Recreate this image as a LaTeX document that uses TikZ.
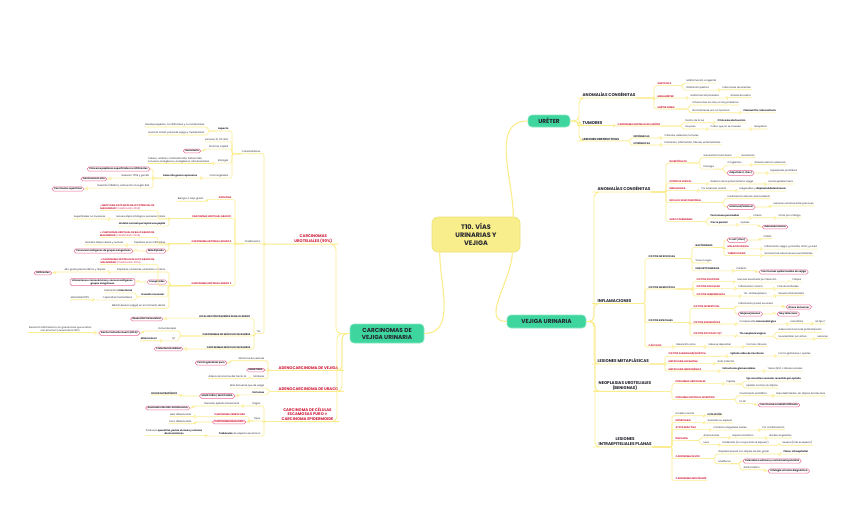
\documentclass[tikz,border=0pt]{standalone}
\usepackage{fontspec}
\setmainfont{Poppins}
\definecolor{lncol}{RGB}{251,236,140}
\definecolor{redt}{RGB}{210,30,60}
\definecolor{pinkb}{RGB}{235,105,150}
\definecolor{greenb}{RGB}{62,214,158}
\definecolor{greenbd}{RGB}{140,232,195}
\definecolor{yelb}{RGB}{248,238,140}
\definecolor{yelbd}{RGB}{238,226,120}
\definecolor{dark}{RGB}{35,35,45}
\newcommand\ft{\fontsize{2.4}{3}\selectfont}
\newcommand\fh{\fontsize{4.1}{5}\selectfont\bfseries}
\newcommand\nW[4]{\node[#1,anchor=west] (#2) at (#3) {#4};}
\newcommand\nE[4]{\node[#1,anchor=east] (#2) at (#3) {#4};}
\newcommand\Rtt[2]{\draw[ln] (#1.south east) to[toR] (#2);}
\newcommand\Rtp[2]{\draw[ln] (#1.south east) to[toRP] (#2);}
\newcommand\Rpt[2]{\draw[ln] (#1.east) to[toR] (#2);}
\newcommand\Rpp[2]{\draw[ln] (#1.east) to[toRP] (#2);}
\newcommand\Ltt[2]{\draw[ln] (#1.south west) to[toL] (#2);}
\newcommand\Ltp[2]{\draw[ln] (#1.south west) to[toLP] (#2);}
\newcommand\Lpt[2]{\draw[ln] (#1.west) to[toL] (#2);}
\newcommand\Lpp[2]{\draw[ln] (#1.west) to[toLP] (#2);}
\begin{document}
\begin{tikzpicture}[x=1pt,y=-1pt,
 ln/.style={draw=lncol,line width=0.6pt,rounded corners=1.6pt},
 lnh/.style={draw=lncol,line width=0.85pt,rounded corners=5pt},
 lnb/.style={draw=lncol,line width=1.1pt},
 toR/.style={to path={-| ([xshift=-3pt]\tikztotarget.south west) -- (\tikztotarget.south west) -- (\tikztotarget.south east)}},
 toRP/.style={to path={-| ([xshift=-3pt]\tikztotarget.west) -- (\tikztotarget.west)}},
 toL/.style={to path={-| ([xshift=3pt]\tikztotarget.south east) -- (\tikztotarget.south east) -- (\tikztotarget.south west)}},
 toLP/.style={to path={-| ([xshift=3pt]\tikztotarget.east) -- (\tikztotarget.east)}},
 tx/.style={font=\ft,text=dark,inner xsep=0.5pt,inner ysep=0.6pt},
 tb/.style={tx,font=\ft\bfseries},
 rd/.style={tx,font=\ft\bfseries,text=redt},
 pl/.style={font=\ft\bfseries,text=dark,draw=pinkb,line width=0.5pt,fill=white,rounded corners=1.8pt,inner xsep=2pt,inner ysep=0.9pt},
 hd/.style={font=\fh,text=dark,inner xsep=0.5pt,inner ysep=0.8pt},
 hs/.style={font=\fontsize{2.9}{3.5}\selectfont\bfseries,text=dark,inner xsep=0.5pt,inner ysep=0.7pt},
 hr/.style={font=\fontsize{3.9}{4.7}\selectfont\bfseries,text=redt,inner xsep=0.5pt,inner ysep=0.8pt,align=center},
 gbox/.style={fill=greenb,draw=greenbd,line width=0.6pt,rounded corners=4pt,font=\fontsize{5.8}{7}\selectfont\bfseries,text=dark,align=center,inner sep=1pt},
]
\fill[white] (0,0) rectangle (848,504);
\useasboundingbox (0,0) rectangle (848,504);

% ---------- central ----------
\node[fill=yelb,draw=yelbd,line width=0.6pt,rounded corners=6pt,minimum width=88pt,minimum height=35pt,
 font=\fontsize{6.5}{8}\selectfont\bfseries,text=dark,align=center] (T) at (476,234.5) {T10. VÍAS\\URINARIAS Y\\VEJIGA};
\node[gbox,minimum width=42pt,minimum height=12pt] (U) at (549,121) {URÉTER};
\node[gbox,minimum width=79pt,minimum height=13pt] (V) at (546.5,321.5) {VEJIGA URINARIA};
\node[gbox,minimum width=74pt,minimum height=19pt] (C) at (387,333.5) {CARCINOMAS DE\\VEJIGA URINARIA};
\draw[lnb] ([xshift=-7pt]T.north east) to[out=90,in=180] (U.west);
\draw[lnb] ([xshift=-8pt]T.south east) to[out=-90,in=180] (V.west);
\draw[lnb] ([xshift=8pt]T.south west) to[out=-90,in=0] (C.east);

% ---------- URETER ----------
\nW{hd}{uac}{582,95}{ANOMALÍAS CONGÉNITAS}
\nW{hd}{utu}{582,123}{TUMORES}
\nW{hs}{ulo}{582,139}{LESIONES OBSTRUCTIVAS}
\nW{rd}{u1}{657,84}{URETOCELE}
\nW{tx}{u11}{686,81}{Malformación congénita}
\nW{tx}{u12}{686,88}{Dilatación quística}
\nW{tx}{u121}{722,88}{Infecciones recurrentes}
\nW{rd}{u2}{657,96}{MEGAURÉTER}
\nW{tx}{u21}{690,96}{Malformación/acalasia}
\nW{tx}{u211}{730,96}{Atresia de uretra}
\nW{rd}{u3}{657,107}{URÉTER DOBLE}
\nW{tx}{u31}{692,103}{Si funcionan los dos, no hay problema}
\nW{tx}{u32}{692,111}{Normalmente uno no funciona}
\nW{tb}{u321}{743,111}{Pielonefritis, hidronefrosis}
\nW{rd}{u4}{617,124}{CARCINOMA UROTELIAL DEL URÉTER}
\nW{tx}{u41}{685,121}{Dentro de la luz}
\nW{tb}{u411}{717,121}{Clínica de obstrucción}
\nW{tx}{u42}{685,127}{De paso}
\nW{tx}{u421}{710,127}{Cólico que no se mueven}
\nW{tx}{u422}{754,127}{Neoplasia}
\nW{tb}{u5}{633,136}{INTRÍNSECAS}
\nW{tx}{u51}{664,136}{Cálculos, estenosis, tumores}
\nW{tb}{u6}{633,143}{EXTRÍNSECAS}
\nW{tx}{u61}{664,143}{Embarazo, inflamación, fibrosis, endometriosis...}
\draw[lnh] (U.east) to[toR] (uac);
\draw[lnh] (U.east) to[toR] (utu);
\draw[lnh] (U.east) to[toR] (ulo);
\Rtt{uac}{u1}\Rtt{uac}{u2}\Rtt{uac}{u3}
\Rtt{u1}{u11}\Rtt{u1}{u12}\Rtt{u12}{u121}
\Rtt{u2}{u21}\Rtt{u21}{u211}
\Rtt{u3}{u31}\Rtt{u3}{u32}\Rtt{u32}{u321}
\Rtt{utu}{u4}\Rtt{u4}{u41}\Rtt{u41}{u411}\Rtt{u4}{u42}\Rtt{u42}{u421}\Rtt{u421}{u422}
\Rtt{ulo}{u5}\Rtt{u5}{u51}\Rtt{ulo}{u6}\Rtt{u6}{u61}

% ---------- VEJIGA: headings ----------
\nW{hd}{vac}{597,189}{ANOMALÍAS CONGÉNITAS}
\nW{hd}{vin}{597,301}{INFLAMACIONES}
\nW{hd}{vme}{597,361}{LESIONES METAPLÁSICAS}
\nW{hd,align=center}{vne}{598,386}{NEOPLASIAS UROTELIALES\\(BENIGNAS)}
\nW{hd,align=center}{vli}{598,442}{LESIONES\\INTRAEPITELIALES PLANAS}
\draw[lnh] (V.east) to[toR] (vac);
\draw[lnh] (V.east) to[toR] (vin);
\draw[lnh] (V.east) to[toR] (vme);
\draw[lnh] (V.east) to[toR] (vne);
\draw[lnh] (V.east) to[toR] (vli);

% anomalias congenitas
\nW{rd}{v1}{669,161}{DIVERTÍCULOS}
\nW{tx}{v11}{703,156}{Saculación hacia fuera}
\nW{tx}{v111}{741,156}{Herniación}
\nW{tx}{v12}{703,167}{Etiología}
\nW{tx}{v121}{727,163}{Congénitos}
\nW{tx}{v1211}{754,163}{Atresia uretral o estenosis}
\nW{pl}{v122}{727,173}{Adquiridos (+frec)}
\nW{tx}{v1221}{770,171}{Hiperplasia prostática}
\nW{rd}{v2}{669,182}{EXTROFIA VESICAL}
\nW{tx}{v21}{710,182}{Defecto cierre pared anterior vejiga}
\nW{tx}{v211}{768,182}{Hernia epitelio fuera}
\nW{rd}{v3}{669,189}{MEGAVEJIGA}
\nW{tx}{v31}{701,189}{Por estenosis uretral}
\nW{tx}{v311}{739,189}{Megauréter y \textbf{displasia bilateral renal}}
\nW{rd}{v4}{669,201}{REFLUJO VESICOURETERAL}
\nW{tx}{v41}{727,197}{Insuficiencia válvula vesicoureteral}
\nW{pl}{v42}{727,207}{Unilateral/bilateral}
\nW{tx}{v421}{773,204}{Lesiones urinarias altas precoces}
\nW{rd}{v5}{669,220}{URACO PERMEABLE}
\nW{tb}{v51}{710,216}{Permanece permeable}
\nW{tx}{v511}{753,216}{Fístula}
\nW{tx}{v512}{778,216}{Orina por ombligo}
\nW{tb}{v52}{710,223}{Cierre parcial}
\nW{tx}{v521}{740,223}{Quistes}
\nW{pl}{v522}{762,227}{Adenocarcinoma}
\Rtt{vac}{v1}\Rtt{vac}{v2}\Rtt{vac}{v3}\Rtt{vac}{v4}\Rtt{vac}{v5}
\Rtt{v1}{v11}\Rtt{v11}{v111}\Rtt{v1}{v12}\Rtt{v12}{v121}\Rtt{v121}{v1211}\Rtp{v12}{v122}\Rpt{v122}{v1221}
\Rtt{v2}{v21}\Rtt{v21}{v211}
\Rtt{v3}{v31}\Rtt{v31}{v311}
\Rtt{v4}{v41}\Rtp{v4}{v42}\Rpt{v42}{v421}
\Rtt{v5}{v51}\Rtt{v51}{v511}\Rtt{v511}{v512}\Rtt{v5}{v52}\Rtt{v52}{v521}\Rtp{v521}{v522}

% inflamaciones
\nW{tb}{w1}{648,257}{CISTITIS INFECCIOSAS}
\nW{tb}{w11}{695,246}{BACTERIANAS}
\nW{pl}{w111}{727,240}{E. coli (+frec)}
\nW{tx}{w1111}{763,237}{Cistitis}
\nW{rd}{w112}{727,247}{MALACOPLAQUIA}
\nW{tx}{w1121}{764,247}{Inflamación vejiga y próstata, riñón y pared}
\nW{rd}{w113}{727,254}{TUBERCULOSIS}
\nW{tx}{w1131}{764,254}{Granulomas tuberculosos necrotizantes}
\nW{tx}{w12}{695,261}{Virus, hongos}
\nW{tb}{w13}{695,269}{ESQUISTOSOMIASIS}
\nW{tx}{w131}{736,269}{Parásito}
\nW{pl}{w132}{759,272}{Carcinomas epidermoides de vejiga}
\nW{tb}{w2}{648,287}{CISTITIS INESPECÍFICA}
\nW{rd}{w21}{696,280}{CISTITIS POLIPOIDE}
\nW{tx}{w211}{737,280}{Mucosa levantada por infección}
\nW{tx}{w212}{792,280}{Pólipos}
\nW{rd}{w22}{696,287}{CISTITIS FOLICULAR}
\nW{tx}{w221}{738,287}{Inflamación crónica}
\nW{tx}{w222}{777,287}{Folículos linfoides}
\nW{rd}{w23}{696,294}{CISTITIS HEMORRÁGICA}
\nW{tx}{w231}{743,294}{Tto. antineoplásico}
\nW{tx}{w232}{778,294}{Genera citotoxicidad}
\nW{tb}{w3}{648,321}{CISTITIS ESPECIALES}
\nW{rd}{w31}{693,307}{CISTITIS INTERSTICIAL}
\nW{tx}{w311}{738,304}{Inflamación pared, se ulcera}
\nW{pl}{w3111}{786,307}{Úlcera de Hunner}
\nW{pl}{w312}{738,314}{Mujeres jóvenes}
\nW{pl}{w3121}{777,314}{Muy dolorosas}
\nW{rd}{w32}{693,322}{CISTITIS EOSINOFÍLICA}
\nW{tx}{w321}{739,322}{Componente \textbf{inmunoalérgico}}
\nW{tx}{w322}{790,322}{Eosinófilos}
\nW{tx}{w323}{815,322}{HE tipo 1}
\nW{rd}{w33}{693,334}{CISTITIS POST RAD Y QT}
\nW{tb}{w331}{739,334}{Tto neoplasia vagina}
\nW{tx}{w3311}{778,330}{Adenocarcinoma de próstata/recto}
\nW{tx}{w3312}{778,337}{Se esterilizan por activo}
\nW{tx}{w3313}{817,337}{Lesiones}
\nW{rd}{w4}{648,345}{CÁLCULOS}
\nW{tx}{w41}{676,345}{Retención orina}
\nW{tx}{w42}{708,345}{Sales se depositan}
\nW{tx}{w43}{746,345}{Forman cálculos}
\Rtt{vin}{w1}\Rtt{vin}{w2}\Rtt{vin}{w3}\Rtt{vin}{w4}
\Rtt{w1}{w11}\Rtp{w11}{w111}\Rpt{w111}{w1111}\Rtt{w11}{w112}\Rtt{w112}{w1121}\Rtt{w11}{w113}\Rtt{w113}{w1131}
\Rtt{w1}{w12}\Rtt{w1}{w13}\Rtt{w13}{w131}\Rtp{w131}{w132}
\Rtt{w2}{w21}\Rtt{w21}{w211}\Rtt{w211}{w212}
\Rtt{w2}{w22}\Rtt{w22}{w221}\Rtt{w221}{w222}
\Rtt{w2}{w23}\Rtt{w23}{w231}\Rtt{w231}{w232}
\Rtt{w3}{w31}\Rtt{w31}{w311}\Rtp{w311}{w3111}\Rtp{w31}{w312}\Rpp{w312}{w3121}
\Rtt{w3}{w32}\Rtt{w32}{w321}\Rtt{w321}{w322}\Rtt{w322}{w323}
\Rtt{w3}{w33}\Rtt{w33}{w331}\Rtt{w331}{w3311}\Rtt{w331}{w3312}\Rtt{w3312}{w3313}
\Rtt{w4}{w41}\Rtt{w41}{w42}\Rtt{w42}{w43}

% metaplasicas
\nW{rd}{m1}{668,354}{CISTITIS GLANDULAR/QUÍSTICA}
\nW{tb}{m11}{730,354}{Epitelio nidos de Von Brunn}
\nW{tx}{m12}{778,354}{Forma glándulas o quistes}
\nW{rd}{m2}{668,362}{METAPLASIA ESCAMOSA}
\nW{tx}{m21}{717,362}{Ante irritación}
\nW{rd}{m3}{668,369}{METAPLASIA NEFROGÉNICA}
\nW{tb}{m31}{722,369}{Estructuras glomeruloides}
\nW{tx}{m32}{767,369}{Tubos (ND) o túbulos renales}
\Rtt{vme}{m1}\Rtt{m1}{m11}\Rtt{m11}{m12}
\Rtt{vme}{m2}\Rtt{m2}{m21}
\Rtt{vme}{m3}\Rtt{m3}{m31}\Rtt{m31}{m32}

% neoplasias
\nW{rd}{n1}{675,382}{PAPILOMAS UROTELIALES}
\nW{tx}{n11}{726,382}{Papilas}
\nW{tb}{n111}{746,379}{Eje conectivo vascular revestido por epitelio}
\nW{tx}{n112}{746,386}{Epitelio normal, sin atipias}
\nW{rd}{n2}{675,398}{PAPILOMA UROTELIAL INVERTIDO}
\nW{tx}{n21}{739,394}{Crecimiento endofítico}
\nW{tx}{n211}{776,394}{Bien delimitados, sin atipias, bordes lisos}
\nW{tx}{n22}{739,402}{En AP}
\nW{pl}{n221}{758,405}{Carcinoma urotelial infiltrante}
\Rtt{vne}{n1}\Rtt{n1}{n11}\Rtt{n11}{n111}\Rtt{n11}{n112}
\Rtt{vne}{n2}\Rtt{n2}{n21}\Rtt{n21}{n211}\Rtt{n2}{n22}\Rtp{n22}{n221}

% lesiones intraepiteliales
\nW{tx}{l1}{675,414}{Urotelio normal}
\nW{tb}{l11}{707,414}{EVOLUCIÓN}
\nW{rd}{l2}{675,421}{HIPERPLASIA}
\nW{tx}{l21}{707,421}{Aumento su espesor}
\nW{rd}{l3}{675,428}{ATIPIA REACTIVA}
\nW{tx}{l31}{713,428}{Cambios irregulares núcleo}
\nW{tx}{l32}{762,428}{Por la inflamación}
\nW{rd}{l4}{675,439}{DISPLASIA}
\nW{tx}{l41}{703,436}{Anisocariosis}
\nW{tx}{l411}{732,436}{Hipercromatismo}
\nW{tx}{l412}{769,436}{Bordes angulados}
\nW{tx}{l42}{703,443}{Leve}
\nW{tx}{l421}{722,443}{Moderada (no ocupa todo el espesor)}
\nW{tx}{l422}{782,443}{Severa (todo el espesor)}
\nW{rd}{l5}{675,457}{CARCINOMA IN SITU}
\nW{tx}{l51}{718,452}{Displasia severa con atipias de alto grado}
\nW{tb}{l511}{783,452}{Plano, intraepitelial}
\nW{tx}{l52}{718,462}{Multifocal}
\nW{pl}{l521}{743,461}{Extenderse uréteres y uretra hasta próstata}
\nW{tx}{l522}{743,468}{Asintomático}
\nW{pl}{l5221}{768,471}{Citología urinaria diagnóstica}
\nW{rd}{l6}{675,479}{CARCINOMA INFILTRANTE}
\Rtt{vli}{l1}\Rtt{l1}{l11}
\Rtt{vli}{l2}\Rtt{l2}{l21}
\Rtt{vli}{l3}\Rtt{l3}{l31}\Rtt{l31}{l32}
\Rtt{vli}{l4}\Rtt{l4}{l41}\Rtt{l41}{l411}\Rtt{l411}{l412}\Rtt{l4}{l42}\Rtt{l42}{l421}\Rtt{l421}{l422}
\Rtt{vli}{l5}\Rtt{l5}{l51}\Rtt{l51}{l511}\Rtt{l5}{l52}\Rtp{l52}{l521}\Rtt{l52}{l522}\Rtp{l522}{l5221}
\Rtt{vli}{l6}

% ---------- CARCINOMAS (left) ----------
\nE{hr}{cu}{333,239}{CARCINOMAS\\UROTELIALES (90\%)}
\nE{hr}{ca}{339,368}{ADENOCARCINOMA DE VEJIGA}
\nE{hr}{cr}{339,389}{ADENOCARCINOMA DE URACO}
\nE{hr}{ce}{334,414}{CARCINOMA DE CÉLULAS\\ESCAMOSAS PURO =\\CARCINOMA EPIDERMOIDE}
\draw[lnh] (C.west) to[toL] (cu);
\draw[lnh] (C.west) to[toL] (ca);
\draw[lnh] (C.west) to[toL] (cr);
\draw[lnh] (C.west) to[toL] (ce);

\nE{tx}{c1}{261,152}{Características}
\nE{tb}{c11}{229,129}{Aspecto}
\nE{tx}{c111}{205,125}{Desde pequeños, no infiltrantes y no recidivantes}
\nE{tx}{c112}{205,133}{Hacia la mitad: pared de vejiga y metastatizar}
\nE{tx}{c12}{229,140}{Varones 3:1, 50-80a}
\nE{tx}{c13}{229,147}{Síntoma capital}
\nE{pl}{c131}{201,151}{Hematuria}
\nE{tx}{c14}{229,161}{Etiología}
\nE{tx,align=left}{c141}{210,160}{Tabaco, anilinas, ciclofosfamida, fosfoamida,\\consumo analgésicos, analgésicos, nitrofurantoína}
\nE{tx}{c15}{229,176}{Carcinogénesis}
\nE{tb}{c151}{198,176}{Selección genes supresores}
\nE{pl}{c1511}{150,169}{Cánceres papilares superficiales no infiltrantes}
\nE{tx}{c1512}{150,176}{Deleción TP53 y gen Rb}
\nE{pl}{c15121}{107,179}{Carcinoma in situ}
\nE{tx}{c1513}{150,186}{Deleción P16INK4 y activación oncogén RAS}
\nE{pl}{c15131}{84,189}{Carcinoma superficial}
\Ltt{cu}{c1}
\Ltt{c1}{c11}\Ltt{c11}{c111}\Ltt{c11}{c112}
\Ltt{c1}{c12}\Ltt{c1}{c13}\Ltp{c13}{c131}
\Ltt{c1}{c14}\Ltt{c14}{c141}
\Ltt{c1}{c15}\Ltt{c15}{c151}\Ltp{c151}{c1511}\Ltt{c151}{c1512}\Ltp{c1512}{c15121}\Ltt{c151}{c1513}\Ltp{c1513}{c15131}

\nE{tx}{c2}{261,242}{Clasificación}
\nE{rd}{c21}{232,198}{PAPILOMA}
\nE{tx}{c211}{204,199}{Benigno / bajo grado}
\nE{rd}{c22}{232,217}{CARCINOMA UROTELIAL GRADO 1}
\nE{rd,align=left}{c221}{155,207}{+ NEOPLASIA PAPILAR DE BAJO POTENCIAL DE\\MALIGNIDAD \textmd{(Clasificación 2004)}}
\nE{tx}{c222}{166,217}{Escasa atipia citológica, escasas mitosis}
\nE{tx}{c2221}{106,217}{Superficiales no invasores}
\nE{tb}{c223}{166,224}{Urotelio normal que tapiza una papila}
\nE{rd}{c23}{232,242}{CARCINOMA UROTELIAL GRADO 2}
\nE{rd,align=left}{c231}{155,234}{+ CARCINOMA UROTELIAL DE BAJO GRADO DE\\MALIGNIDAD \textmd{(Clasificación 2004)}}
\nE{tx}{c232}{166,243}{Papilares poco infiltrantes}
\nE{tx}{c2321}{124,243}{Discreta atipia celular y nuclear}
\nE{pl}{c233}{166,251}{Más diploide}
\nE{pl}{c2331}{133,251}{Conservan antígenos de grupos sanguíneos}
\nE{rd}{c24}{232,284}{CARCINOMA UROTELIAL GRADO 3}
\nE{rd,align=left}{c241}{155,261}{+ CARCINOMA UROTELIAL DE ALTO GRADO DE\\MALIGNIDAD \textmd{(Clasificación 2004)}}
\nE{tx}{c242}{166,270}{Papilares, nodulares, ulcerados o mixtos}
\nE{tx}{c2421}{106,270}{Alto grado pleomorfismo y atipias}
\nE{pl}{c2422}{52,273}{Infiltrantes}
\nE{pl}{c243}{167,282}{Aneuploides}
\nE{pl,align=center}{c2431}{135,282}{Alteraciones cromosómicas y carecen antígenos\\grupos sanguíneos}
\nE{tb}{c244}{165,295}{Invasión muscular}
\nE{tx}{c2441}{133,291}{Indicación \textbf{cistectomía}}
\nE{tx}{c2442}{133,298}{Capacidad metastásica}
\nE{tx}{c24421}{90,298}{Mortalidad 50\%}
\nE{tx}{c245}{166,306}{Mitad (desean vejiga) en el momento del Dx}
\Ltt{cu}{c2}
\Ltt{c2}{c21}\Ltt{c21}{c211}
\Ltt{c2}{c22}\Ltt{c22}{c221}\Ltt{c22}{c222}\Ltt{c222}{c2221}\Ltt{c22}{c223}
\Ltt{c2}{c23}\Ltt{c23}{c231}\Ltt{c23}{c232}\Ltt{c232}{c2321}\Ltp{c23}{c233}\Lpp{c233}{c2331}
\Ltt{c2}{c24}\Ltt{c24}{c241}\Ltt{c24}{c242}\Ltt{c242}{c2421}\Ltp{c2421}{c2422}\Ltp{c24}{c243}\Lpp{c243}{c2431}
\Ltt{c24}{c244}\Ltt{c244}{c2441}\Ltt{c244}{c2442}\Ltt{c2442}{c24421}\Ltt{c24}{c245}

\nE{tx}{c3}{261,332}{Tto}
\nE{tb}{c31}{251,316}{LOCALIZACIÓN PEQUEÑOS DE BAJO GRADO}
\nE{pl}{c311}{163,319}{Resección transuretral}
\nE{tb}{c32}{251,334}{CARCINOMAS NO MÚSCULO INVASORES}
\nE{tx}{c321}{177,329}{Inmunoterapia}
\nE{pl}{c3211}{140,333}{Bacilo Calmette Guerin (BCG)}
\nE{tx,align=center}{c3212}{92,329}{Reacción inflamatoria con granulomas que ocultan\\con el tumor (vacuna de la TBC)}
\nE{tx}{c322}{176,339}{QT}
\nE{tb}{c3221}{158,339}{Mitomicina C}
\nE{tb}{c33}{251,347}{CARCINOMAS MÚSCULO INVASORES}
\nE{pl}{c331}{183,349}{Cistectomía radical}
\Ltt{cu}{c3}
\Ltt{c3}{c31}\Ltp{c31}{c311}
\Ltt{c3}{c32}\Ltt{c32}{c321}\Ltp{c321}{c3211}\Lpt{c3211}{c3212}\Ltt{c32}{c322}\Ltt{c322}{c3221}
\Ltt{c3}{c33}\Ltp{c33}{c331}

% adenocarcinoma vejiga
\nE{tx}{ca1}{265,359}{Síntomas de vesícula}
\nE{pl}{ca11}{227,363}{Patrón glandular puro}
\nE{pl}{ca2}{265,370}{HEMATURIA}
\nE{tx}{ca3}{265,377}{Similares}
\nE{tx}{ca31}{247,377}{Adenocarcinomas del tracto GI}
\Ltt{ca}{ca1}\Ltp{ca1}{ca11}\Ltp{ca}{ca2}\Ltt{ca}{ca3}\Ltt{ca3}{ca31}
% adenocarcinoma uraco
\nE{tx}{cr1}{265,386}{Más frecuente que de vejiga}
\nE{tb}{cr2}{265,393}{Síntomas}
\nE{pl}{cr21}{235,396}{HEMATURIA / MUCOSURIA}
\nE{tb}{cr211}{178,393}{DOLOR SUPRAPÚBICO}
\Ltt{cr}{cr1}\Ltt{cr}{cr2}\Ltp{cr2}{cr21}\Lpt{cr21}{cr211}
% epidermoide
\nE{tx}{ce1}{261,404}{Origen}
\nE{tx}{ce11}{240,404}{Derivado epitelio transicional}
\nE{pl}{ce111}{190,408}{Asociado infección Schistosoma}
\nE{tx}{ce2}{261,419}{Tipos}
\nE{rd}{ce21}{246,415}{CARCINOMA VERRUCOSO}
\nE{tx}{ce211}{192,415}{Bien diferenciado}
\nE{pl,text=redt}{ce22}{246,422}{CARCINOMA BASALOIDE}
\nE{tx}{ce221}{192,422}{Poco diferenciado}
\nE{tx}{ce3}{261,434}{\textbf{Trabéculas} de aspecto escamoso}
\nE{tx,align=center}{ce31}{203,432}{Producen \textbf{queratina, perlas córneas y uniones}\\\textbf{desmosómicas}}
\Ltt{ce}{ce1}\Ltt{ce1}{ce11}\Ltp{ce11}{ce111}
\Ltt{ce}{ce2}\Ltt{ce2}{ce21}\Ltt{ce21}{ce211}\Ltp{ce2}{ce22}\Lpt{ce22}{ce221}
\Ltt{ce}{ce3}\Ltt{ce3}{ce31}
\end{tikzpicture}
\end{document}
